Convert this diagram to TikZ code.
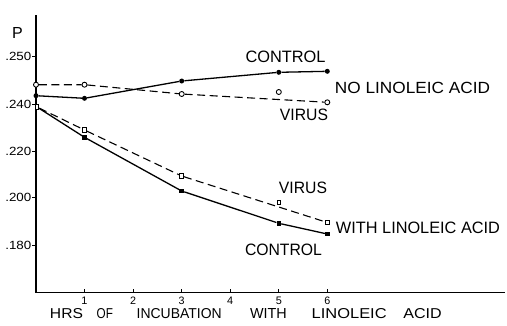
\documentclass[tikz,border=0pt]{standalone}
\usepackage{graphicx}
\usepackage{fontspec}
\setmainfont{Liberation Sans}
\newcommand{\rb}[3]{\resizebox{#1pt}{#2pt}{#3}}
\newcommand{\rh}[2]{\resizebox{!}{#1pt}{#2}}
\begin{document}
\begin{tikzpicture}[x=1pt,y=-1pt,
  axisline/.style={line width=1.2pt},
  tickline/.style={line width=1pt},
  solidline/.style={line width=1.3pt},
  dashline/.style={line width=1.1pt,dash pattern=on 8pt off 4.5pt},
  fcirc/.style={circle,fill=black,inner sep=0pt,minimum size=5pt},
  ocirc/.style={circle,draw=black,line width=0.9pt,fill=white,inner sep=0pt,minimum size=5pt},
  fsq/.style={rectangle,fill=black,inner sep=0pt,minimum size=4.5pt},
  osq/.style={rectangle,draw=black,line width=0.9pt,fill=white,inner sep=0pt,minimum width=3.6pt,minimum height=4.6pt},
  lbl/.style={inner sep=0pt,anchor=center},
  ylbl/.style={inner sep=0pt,anchor=east}
]
\fill[white] (0,0) rectangle (507,325);
\useasboundingbox (0,0) rectangle (507,325);

% axes
\coordinate (ytop) at (36,15);
\coordinate (origin) at (36,292.7);
\coordinate (xend) at (505,292.7);
\draw[axisline] (ytop) -- (origin) -- (xend);

% y ticks and labels
\foreach \yy/\tl/\nm in {56.7/.250/y250,104.3/.240/y240,151/.220/y220,197.7/.200/y200,245.7/.180/y180}{
  \coordinate (t\nm) at (36,\yy);
  \draw[tickline] (t\nm) -- ++(-4,0);
  \node[ylbl] (\nm) at (31.5,\yy) {\rb{26}{8.3}{\tl}};
}
\node[lbl] (P) at (17.5,32.5) {\rh{11}{P}};

% x ticks and labels
\foreach \xx/\tl in {84.5/1,133/2,181.7/3,230.2/4,278.8/5,327.3/6}{
  \coordinate (x\tl) at (\xx,292.7);
  \draw[tickline] (x\tl) -- ++(0,-4);
  \node[lbl] (xl\tl) at (\xx,300.5) {\rh{7.5}{\tl}};
}
\node[lbl] (title) at (245.85,313.3) {\rb{33}{10}{HRS}\hspace{13.7pt}\rb{16.3}{10}{OF}\hspace{23.7pt}\rb{85}{10}{INCUBATION}\hspace{28.3pt}\rb{36.7}{10}{WITH}\hspace{25pt}\rb{75}{10}{LINOLEIC}\hspace{16.6pt}\rb{38.4}{10}{ACID}};

% ---- no linoleic acid: control (filled circles, solid)
\node[fcirc] (c0) at (36,95.7) {};
\node[fcirc] (c1) at (84.5,98.3) {};
\node[fcirc] (c3) at (181.7,81) {};
\node[fcirc] (c5) at (278.8,72.3) {};
\node[fcirc] (c6) at (327.3,71.3) {};
\draw[solidline] (c0) -- (c1) -- (c3) -- (c5) -- (c6);

% ---- no linoleic acid: virus (open circles, dashed)
\node[ocirc] (v0) at (36,84.7) {};
\node[ocirc] (v1) at (84.5,84.7) {};
\node[ocirc] (v3) at (181.7,94) {};
\node[ocirc] (v6) at (327.3,102.3) {};
\draw[dashline] (v0) -- (v1) -- (v3) -- (v6);
\node[ocirc] (v5) at (278.8,92) {};

% ---- with linoleic acid: control (filled squares, solid)
\node[osq] (s0) at (37,107) {};
\node[fsq] (cl1) at (84.5,137.3) {};
\node[fsq] (cl3) at (181.7,191) {};
\node[fsq] (cl5) at (278.8,223.3) {};
\node[fsq] (cl6) at (327.3,234) {};
\draw[solidline] (s0) -- (cl1) -- (cl3) -- (cl5) -- (cl6);

% ---- with linoleic acid: virus (open squares, dashed)
\node[osq] (vl1) at (84.5,130) {};
\node[osq] (vl3) at (181.7,176) {};
\node[osq] (vl6) at (327.3,222.5) {};
\draw[dashline] (s0) -- (vl1) -- (vl3) -- (vl6);
\node[osq] (vl5) at (278.8,202.3) {};

% labels
\node[lbl] (lc1) at (285.5,57.3) {\rb{80}{11.5}{CONTROL}};
\node[lbl] (lv1) at (304,115) {\rb{48}{11.5}{VIRUS}};
\node[lbl] (lno) at (412.5,88.3) {\rb{155}{11.3}{NO LINOLEIC ACID}};
\node[lbl] (lv2) at (303,188.3) {\rb{48}{11.5}{VIRUS}};
\node[lbl] (lwith) at (418,228.3) {\rb{164}{11.5}{WITH LINOLEIC ACID}};
\node[lbl] (lc2) at (283.5,250) {\rb{77}{11.5}{CONTROL}};
\end{tikzpicture}
\end{document}
